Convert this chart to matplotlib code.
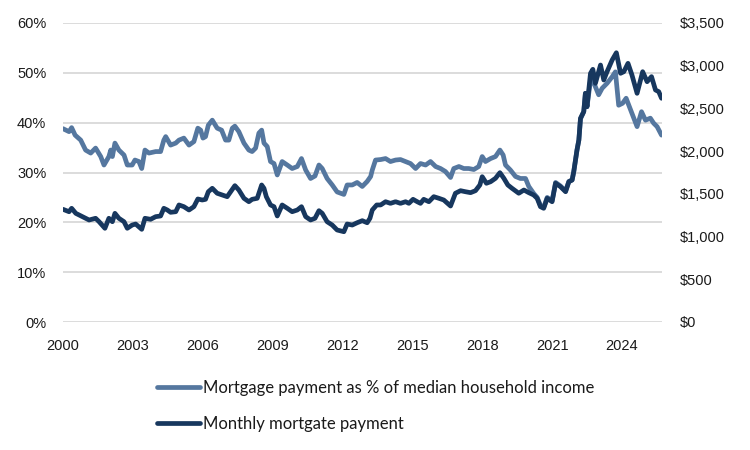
import matplotlib
matplotlib.use("Agg")
import matplotlib.pyplot as plt
from matplotlib.ticker import FuncFormatter, MultipleLocator

# ---- data (decimal years) ----
pct_years = [2000.00, 2000.04, 2000.26, 2000.37, 2000.52, 2000.76, 2000.97, 2001.19, 2001.40, 2001.62,
             2001.76, 2001.97, 2002.05, 2002.12, 2002.23, 2002.40, 2002.62, 2002.76, 2002.97, 2003.09,
             2003.26, 2003.38, 2003.52, 2003.69, 2003.98, 2004.19, 2004.33, 2004.41, 2004.62, 2004.84,
             2004.98, 2005.19, 2005.41, 2005.62, 2005.79, 2005.91, 2006.01, 2006.12, 2006.24, 2006.41,
             2006.62, 2006.81, 2006.98, 2007.12, 2007.27, 2007.38, 2007.55, 2007.77, 2007.98, 2008.12,
             2008.27, 2008.41, 2008.53, 2008.63, 2008.77, 2008.91, 2009.06, 2009.20, 2009.41, 2009.63,
             2009.84, 2010.06, 2010.24, 2010.42, 2010.63, 2010.82, 2010.99, 2011.13, 2011.34, 2011.56,
             2011.77, 2012.06, 2012.20, 2012.42, 2012.63, 2012.85, 2013.06, 2013.21, 2013.28, 2013.42,
             2013.64, 2013.85, 2014.06, 2014.28, 2014.49, 2014.71, 2014.92, 2015.14, 2015.35, 2015.57,
             2015.78, 2016.00, 2016.21, 2016.42, 2016.64, 2016.78, 2017.00, 2017.21, 2017.42, 2017.64,
             2017.85, 2018.00, 2018.14, 2018.36, 2018.57, 2018.76, 2018.90, 2019.00, 2019.21, 2019.43,
             2019.64, 2019.86, 2020.00, 2020.21, 2020.36, 2020.50, 2020.64, 2020.79, 2021.00, 2021.15,
             2021.36, 2021.58, 2021.72, 2021.86, 2021.93, 2022.07, 2022.15, 2022.22, 2022.36, 2022.43,
             2022.50, 2022.65, 2022.75, 2022.80, 2023.00, 2023.15, 2023.36, 2023.58, 2023.72, 2023.86,
             2024.03, 2024.18, 2024.32, 2024.51, 2024.65, 2024.84, 2025.01, 2025.22, 2025.36, 2025.51,
             2025.70]
pct_share = [38.8, 38.7, 38.2, 39.0, 37.5, 36.5, 34.5, 33.9, 34.9, 33.2,
             31.5, 33.2, 34.5, 33.2, 35.9, 34.5, 33.5, 31.5, 31.5, 32.5,
             32.2, 30.8, 34.5, 33.9, 34.2, 34.2, 36.5, 37.2, 35.5, 35.9,
             36.5, 36.9, 35.5, 36.2, 38.9, 38.5, 36.9, 37.2, 39.5, 40.5,
             38.9, 38.5, 36.5, 36.5, 38.9, 39.3, 38.2, 35.9, 34.5, 34.2,
             34.9, 37.9, 38.5, 35.9, 35.2, 32.2, 31.8, 29.5, 32.2, 31.5,
             30.8, 31.2, 32.8, 30.5, 28.8, 29.3, 31.5, 30.8, 28.8, 27.5,
             26.1, 25.6, 27.5, 27.5, 28.0, 27.2, 28.2, 29.2, 30.5, 32.5,
             32.6, 32.8, 32.2, 32.5, 32.6, 32.2, 31.8, 30.8, 31.8, 31.5,
             32.2, 31.2, 30.8, 30.2, 29.0, 30.8, 31.2, 30.8, 30.8, 30.6,
             31.2, 33.2, 32.2, 32.8, 33.2, 34.5, 33.5, 31.5, 30.5, 29.2,
             28.8, 28.8, 27.2, 25.8, 25.0, 23.4, 23.0, 25.0, 24.3, 28.0,
             27.3, 26.3, 28.2, 28.5, 30.1, 34.5, 36.5, 40.8, 42.2, 45.9,
             43.2, 48.5, 49.0, 47.9, 45.6, 46.9, 47.9, 49.2, 50.2, 43.5,
             43.9, 44.9, 43.2, 40.9, 39.2, 42.2, 40.5, 40.9, 39.9, 39.2,
             37.5]

pay_years = [2000.00, 2000.26, 2000.37, 2000.55, 2000.83, 2001.12, 2001.40, 2001.55, 2001.80, 2001.97,
             2002.12, 2002.23, 2002.40, 2002.62, 2002.76, 2002.97, 2003.12, 2003.38, 2003.52, 2003.76,
             2003.98, 2004.19, 2004.33, 2004.48, 2004.62, 2004.84, 2004.98, 2005.19, 2005.41, 2005.62,
             2005.79, 2005.98, 2006.12, 2006.24, 2006.41, 2006.62, 2006.84, 2007.05, 2007.20, 2007.38,
             2007.55, 2007.77, 2007.98, 2008.12, 2008.34, 2008.53, 2008.63, 2008.73, 2008.91, 2009.06,
             2009.20, 2009.41, 2009.63, 2009.84, 2010.06, 2010.24, 2010.42, 2010.63, 2010.82, 2010.99,
             2011.13, 2011.34, 2011.56, 2011.77, 2012.06, 2012.20, 2012.42, 2012.63, 2012.85, 2013.06,
             2013.18, 2013.28, 2013.47, 2013.64, 2013.85, 2014.06, 2014.28, 2014.49, 2014.71, 2014.85,
             2015.03, 2015.21, 2015.35, 2015.49, 2015.71, 2015.92, 2016.14, 2016.35, 2016.64, 2016.85,
             2017.07, 2017.28, 2017.50, 2017.71, 2017.90, 2018.00, 2018.18, 2018.36, 2018.57, 2018.76,
             2018.93, 2019.10, 2019.28, 2019.57, 2019.79, 2020.00, 2020.21, 2020.36, 2020.50, 2020.64,
             2020.79, 2021.00, 2021.15, 2021.36, 2021.58, 2021.72, 2021.86, 2021.93, 2022.07, 2022.15,
             2022.22, 2022.36, 2022.43, 2022.50, 2022.65, 2022.75, 2022.86, 2023.08, 2023.22, 2023.36,
             2023.58, 2023.76, 2023.94, 2024.08, 2024.26, 2024.43, 2024.65, 2024.89, 2025.08, 2025.27,
             2025.44, 2025.58, 2025.70]
monthly_payment = [1319, 1291, 1331, 1272, 1233, 1194, 1214, 1174, 1097, 1214,
                   1174, 1272, 1214, 1174, 1097, 1135, 1147, 1085, 1214, 1202,
                   1233, 1241, 1331, 1311, 1284, 1291, 1370, 1350, 1311, 1350,
                   1440, 1428, 1436, 1525, 1565, 1507, 1487, 1467, 1525, 1596,
                   1545, 1448, 1408, 1436, 1448, 1604, 1565, 1467, 1370, 1350,
                   1241, 1370, 1331, 1291, 1311, 1350, 1233, 1194, 1214, 1303,
                   1272, 1174, 1135, 1077, 1057, 1147, 1135, 1162, 1186, 1162,
                   1214, 1311, 1370, 1370, 1408, 1389, 1408, 1389, 1408, 1389,
                   1436, 1408, 1389, 1436, 1408, 1467, 1448, 1428, 1358, 1507,
                   1537, 1525, 1514, 1537, 1604, 1701, 1624, 1642, 1682, 1748,
                   1682, 1604, 1565, 1507, 1545, 1514, 1487, 1448, 1350, 1331,
                   1448, 1408, 1624, 1584, 1525, 1642, 1662, 1759, 2013, 2130,
                   2384, 2462, 2677, 2520, 2911, 2958, 2794, 3008, 2833, 2930,
                   3067, 3152, 2911, 2930, 3028, 2891, 2677, 2930, 2813, 2872,
                   2716, 2696, 2619]

x_ticks = [2000, 2003, 2006, 2009, 2012, 2015, 2018, 2021, 2024]
label_pct = "Mortgage payment as % of median household income"
label_pay = "Monthly mortgate payment"

# ---- styling ----
c_light = "#55779f"
c_dark = "#17375e"
tick_font = "Liberation Sans"

fig = plt.figure(figsize=(7.5, 4.5), dpi=100)
ax = fig.add_axes([63/750, 1-322/450, (662-63)/750, (322-23)/450])
ax2 = ax.twinx()

l1, = ax.plot(pct_years, pct_share, color=c_light, lw=3.4, solid_joinstyle="round",
              solid_capstyle="round", label=label_pct)
l2, = ax2.plot(pay_years, monthly_payment, color=c_dark, lw=3.4, solid_joinstyle="round",
               solid_capstyle="round", label=label_pay)

ax.set_xlim(2000, 2025.72)
ax.set_ylim(0, 60)
ax2.set_ylim(0, 3500)
ax.yaxis.set_major_locator(MultipleLocator(10))
ax2.yaxis.set_major_locator(MultipleLocator(500))
ax.set_xticks(x_ticks)
ax.set_xticklabels([str(t) for t in x_ticks])
ax.yaxis.set_major_formatter(FuncFormatter(lambda v, p: f"{v:.0f}%"))
ax2.yaxis.set_major_formatter(FuncFormatter(lambda v, p: f"${v:,.0f}"))

ax.grid(axis="y", color="#d9d9d9", lw=1.3)
ax.set_axisbelow(True)
for a in (ax, ax2):
    for s in a.spines.values():
        s.set_visible(False)
ax.tick_params(axis="both", length=0, labelsize=10.5, colors="#1a1a1a")
ax.tick_params(axis="y", pad=12)
ax.tick_params(axis="x", pad=12)
ax2.tick_params(axis="y", length=0, labelsize=10.5, colors="#1a1a1a", pad=13)
for lab in ax.get_xticklabels() + ax.get_yticklabels() + ax2.get_yticklabels():
    lab.set_fontfamily(tick_font)

leg = fig.legend(handles=[l1, l2], loc="upper left",
                 bbox_to_anchor=(157/750, 1-380/450), frameon=False,
                 borderpad=0, borderaxespad=0, handlelength=2.6, handletextpad=0.15,
                 labelspacing=1.2, prop={"family": "Lato", "size": 12})
for t in leg.get_texts():
    t.set_color("#1a1a1a")

fig.savefig("out.png", dpi=100)
